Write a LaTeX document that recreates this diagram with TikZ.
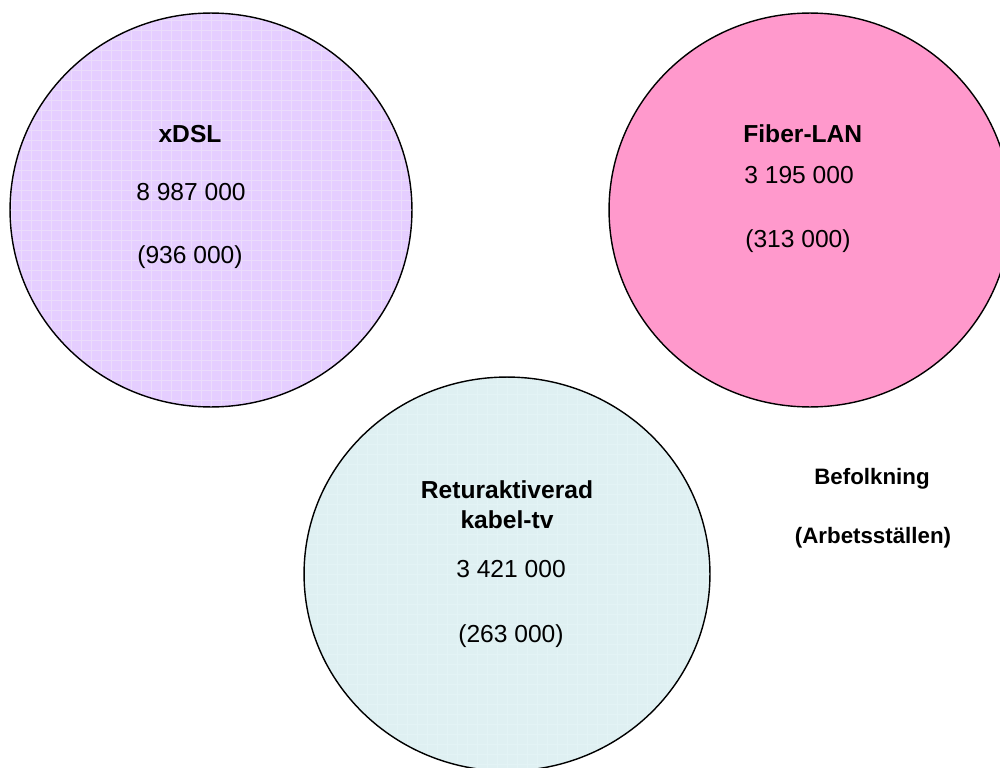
\documentclass[tikz,border=0pt]{standalone}
\usepackage{fontspec}
\setmainfont{Liberation Sans}
\usetikzlibrary{shapes.geometric}
\definecolor{DslFill}{RGB}{229,206,255}
\definecolor{DslGrid}{RGB}{205,168,246}
\definecolor{FiberFill}{RGB}{255,153,204}
\definecolor{KabelFill}{RGB}{223,240,242}
\definecolor{KabelGrid}{RGB}{186,226,232}

\begin{document}
\begin{tikzpicture}[
x=0.02cm, y=-0.02cm,
area/.style={ellipse, draw=black, line width=0.8pt, inner sep=0pt, outer sep=0pt, minimum width=8.04cm, minimum height=7.88cm},
hatch/.style={path picture={
  \draw[#1, line width=0.45pt, step=0.2cm] (path picture bounding box.south west) grid (path picture bounding box.north east);
  \draw[white, opacity=0.6, line width=0.25pt, step=0.2cm, shift={(0.1cm,0.1cm)}] (path picture bounding box.south west) grid (path picture bounding box.north east);}},
title/.style={font=\fontsize{14}{16}\selectfont\bfseries, inner sep=0pt},
count/.style={font=\fontsize{14}{16}\selectfont, inner sep=0pt},
note/.style={font=\fontsize{12.7}{15}\selectfont\bfseries, inner sep=0pt}
]
\clip (0,0) rectangle (1000,767);
\fill[white] (0,0) rectangle (1000,767);

% the three access networks
\node[area, fill=DslFill, hatch=DslGrid] (dsl) at (211,210) {};
\node[area, fill=FiberFill] (fiber) at (810,210) {};
\node[area, fill=KabelFill, hatch=KabelGrid, minimum width=8.12cm] (kabel) at (507,574) {};

\node[title, anchor=base] (dslname) at (190,142) {xDSL};
\node[count, anchor=base] (dslpop) at (191,200) {8 987 000};
\node[count, anchor=base] (dslwork) at (190,263) {(936 000)};

\node[title, anchor=base west] (fibername) at (743,142) {Fiber-LAN};
\node[count, anchor=base west] (fiberpop) at (744,183) {3 195 000};
\node[count, anchor=base west] (fiberwork) at (745,247) {(313 000)};

\node[title, anchor=base] (kabelname) at (507,498) {Returaktiverad};
\node[title, anchor=base] (kabelname2) at (507,528) {kabel-tv};
\node[count, anchor=base] (kabelpop) at (511,577) {3 421 000};
\node[count, anchor=base] (kabelwork) at (511,642) {(263 000)};

% legend
\node[note, anchor=base] (pop) at (872,484) {Befolkning};
\node[note, anchor=base] (work) at (873,543) {(Arbetsställen)};
\end{tikzpicture}
\end{document}
